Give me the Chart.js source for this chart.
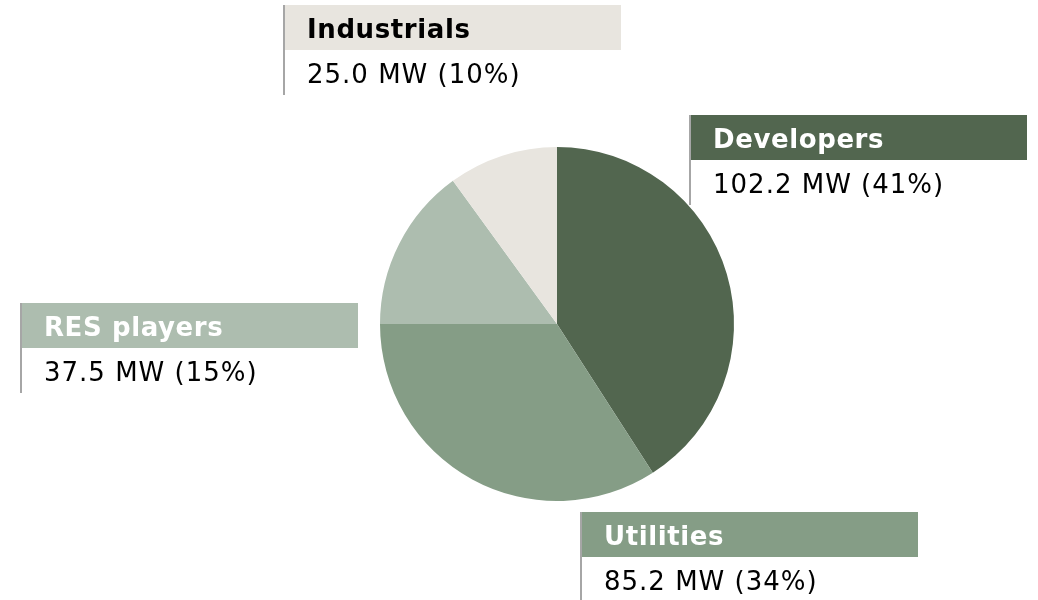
<!DOCTYPE html>
<html>
<head>
<meta charset="utf-8">
<script src="https://cdn.jsdelivr.net/npm/chart.js@4/dist/chart.umd.min.js"></script>
<style>
  html, body { margin: 0; padding: 0; background: #fff; }
  #wrap { position: relative; width: 1038px; height: 600px; }
</style>
</head>
<body>
<div id="wrap"><canvas id="pieChart" width="1038" height="600"></canvas></div>
<script>
// Chart data
const categories = ['Developers', 'Utilities', 'RES players', 'Industrials'];
const capacityMW = [102.2, 85.2, 37.5, 25.0];
const sharePct = [41, 34, 15, 10];
const sliceColors = ['#52664f', '#859d86', '#adbdaf', '#e8e5df'];
const headerTextColors = ['#ffffff', '#ffffff', '#ffffff', '#000000'];

// Where each callout box sits (left line x, header top y)
const calloutAnchors = [
  { x: 690, y: 115 },
  { x: 581, y: 512 },
  { x: 21, y: 303 },
  { x: 284, y: 5 }
];

const FONT = '"DejaVu Sans", Verdana, sans-serif';

// Draw the label boxes next to the pie
const calloutPlugin = {
  id: 'callouts',
  afterDraw(chart) {
    const ctx = chart.ctx;
    ctx.save();
    chart.data.labels.forEach(function (label, i) {
      const a = calloutAnchors[i];
      // header block
      ctx.fillStyle = sliceColors[i];
      ctx.fillRect(a.x + 1, a.y, 336, 45);
      // left rule
      ctx.fillStyle = '#a6a6a6';
      ctx.fillRect(a.x - 1, a.y, 2, 90);
      // header text
      ctx.fillStyle = headerTextColors[i];
      ctx.font = 'bold 26px ' + FONT;
      ctx.letterSpacing = '0.6px';
      ctx.textBaseline = 'alphabetic';
      ctx.textAlign = 'left';
      ctx.fillText(label, a.x + 23, a.y + 33);
      // value text
      ctx.fillStyle = '#000000';
      ctx.font = '26px ' + FONT;
      ctx.letterSpacing = '1px';
      const value = chart.data.datasets[0].data[i];
      ctx.fillText(value.toFixed(1) + ' MW (' + sharePct[i] + '%)', a.x + 23, a.y + 78);
    });
    ctx.restore();
  }
};

const ctx = document.getElementById('pieChart').getContext('2d');
window.pieChart = new Chart(ctx, {
  type: 'pie',
  data: {
    labels: categories,
    datasets: [{
      data: capacityMW,
      backgroundColor: sliceColors,
      borderWidth: 0
    }]
  },
  options: {
    responsive: false,
    animation: false,
    layout: {
      padding: { top: 147, bottom: 99, left: 380, right: 304 }
    },
    plugins: {
      legend: { display: false },
      tooltip: { enabled: false }
    }
  },
  plugins: [calloutPlugin]
});
</script>
</body>
</html>
